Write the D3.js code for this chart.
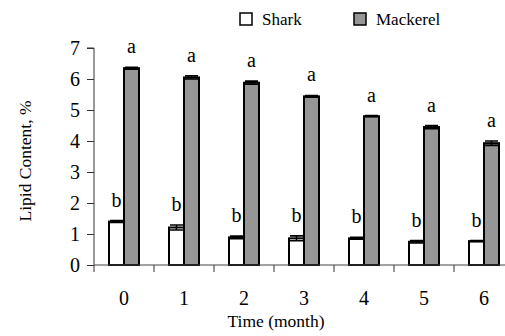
<!DOCTYPE html>
<html>
<head>
<meta charset="utf-8">
<script src="https://cdn.jsdelivr.net/npm/d3@7"></script>
<style>
  body { margin: 0; background: #fff; }
  svg text { font-family: 'Liberation Serif', 'Times New Roman', Times, serif; fill: #000; }
</style>
</head>
<body>
<svg id="chart" width="505" height="336"></svg>
<script>
// data
const months = ["0", "1", "2", "3", "4", "5", "6"]
const series = ["Shark", "Mackerel"]
const shark = [1.40, 1.21, 0.89, 0.86, 0.86, 0.75, 0.77]
const sharkErr = [0.03, 0.08, 0.04, 0.08, 0.03, 0.04, 0.02]
const mackerel = [6.35, 6.05, 5.88, 5.44, 4.80, 4.45, 3.93]
const mackerelErr = [0.03, 0.05, 0.05, 0.03, 0.02, 0.05, 0.07]
const sharkLetters = ["b", "b", "b", "b", "b", "b", "b"]
const mackerelLetters = ["a", "a", "a", "a", "a", "a", "a"]
const yTicks = [0, 1, 2, 3, 4, 5, 6, 7]

const fills = {Shark: "#ffffff", Mackerel: "#969696"}
const serif = "'Liberation Serif', 'Times New Roman', Times, serif"

const svg = d3.select("#chart").attr("font-family", serif)

const x = d3.scaleBand().domain(months).range([94, 514]).padding(0)
const inner = d3.scaleBand().domain(series).range([-15, 15])
const y = d3.scaleLinear().domain([0, 7]).range([265, 48])

const rows = months.map((m, i) => ({
  month: m,
  bars: [
    {key: "Shark", v: shark[i], e: sharkErr[i], letter: sharkLetters[i]},
    {key: "Mackerel", v: mackerel[i], e: mackerelErr[i], letter: mackerelLetters[i]}
  ]
}))

// y axis
const yAxis = svg.append("g")
  .attr("transform", "translate(94,0)")
  .call(d3.axisLeft(y).tickValues(yTicks).tickSize(7).tickPadding(7).tickFormat(d3.format("d")))
  .attr("font-family", serif)
  .attr("font-size", 20)
yAxis.select(".domain").attr("stroke", "#333").attr("d", `M-7,${y(7)}H0V${y(0)}`)
yAxis.selectAll(".tick line").attr("stroke", "#333")
yAxis.selectAll(".tick text").attr("dy", "0.34em")

// groups
const groups = svg.append("g")
  .selectAll("g")
  .data(rows)
  .join("g")
  .attr("transform", (d) => `translate(${x(d.month) + x.bandwidth() / 2},0)`)

const bar = groups.selectAll("g.bar")
  .data((d) => d.bars)
  .join("g")
  .attr("class", "bar")

bar.append("rect")
  .attr("x", (d) => inner(d.key))
  .attr("width", inner.bandwidth())
  .attr("y", (d) => y(d.v))
  .attr("height", (d) => y(0) - y(d.v))
  .attr("fill", (d) => fills[d.key])
  .attr("stroke", "#000")
  .attr("stroke-width", 2)

// error bars
bar.append("path")
  .attr("d", (d) => {
    const x0 = inner(d.key) + 1, x1 = inner(d.key) + inner.bandwidth() - 1
    const xm = inner(d.key) + inner.bandwidth() / 2
    const hi = y(d.v + d.e), lo = y(d.v - d.e)
    return `M${x0},${hi}H${x1}M${x0},${lo}H${x1}M${xm},${hi}V${lo}`
  })
  .attr("fill", "none")
  .attr("stroke", "#000")
  .attr("stroke-width", 1.6)

bar.append("text")
  .attr("x", (d) => inner(d.key) + inner.bandwidth() / 2)
  .attr("y", (d) => y(d.v + d.e) - 14)
  .attr("text-anchor", "middle")
  .attr("font-size", 20)
  .text((d) => d.letter)

// x axis
const xAxis = svg.append("g")
  .attr("transform", `translate(0,${y(0)})`)
xAxis.append("line")
  .attr("x1", 94).attr("x2", 514)
  .attr("stroke", "#444")
xAxis.selectAll("line.tick")
  .data(months)
  .join("line")
  .attr("class", "tick")
  .attr("x1", (d) => x(d)).attr("x2", (d) => x(d))
  .attr("y1", 0).attr("y2", 7)
  .attr("stroke", "#333")
xAxis.selectAll("text")
  .data(months)
  .join("text")
  .attr("x", (d) => x(d) + x.bandwidth() / 2)
  .attr("y", 40)
  .attr("text-anchor", "middle")
  .attr("font-size", 20)
  .text((d) => d)

// axis titles
svg.append("text")
  .attr("transform", "translate(31,161) rotate(-90)")
  .attr("text-anchor", "middle")
  .attr("font-size", 17.5)
  .text("Lipid Content, %")

svg.append("text")
  .attr("x", 276)
  .attr("y", 327)
  .attr("text-anchor", "middle")
  .attr("font-size", 17.5)
  .text("Time (month)")

// legend
const legendX = {Shark: 240, Mackerel: 354}
const legend = svg.append("g")
  .selectAll("g")
  .data(series)
  .join("g")
  .attr("transform", (d) => `translate(${legendX[d]},13)`)
legend.append("rect")
  .attr("width", 12).attr("height", 12)
  .attr("fill", (d) => fills[d])
  .attr("stroke", "#000")
  .attr("stroke-width", 1.5)
legend.append("text")
  .attr("x", 22)
  .attr("y", 12)
  .attr("font-size", 17)
  .text((d) => d)
</script>
</body>
</html>
